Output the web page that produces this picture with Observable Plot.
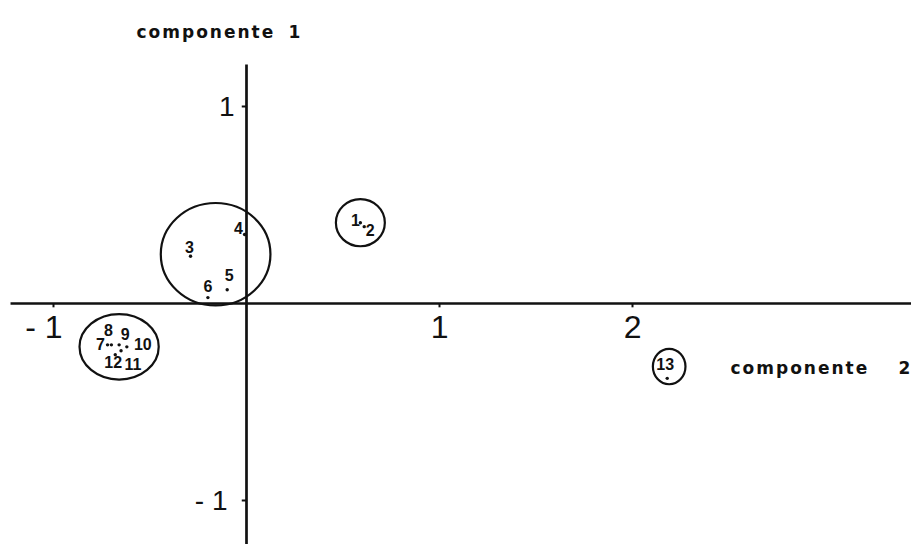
<!DOCTYPE html>
<html>
<head>
<meta charset="utf-8">
<script src="https://cdn.jsdelivr.net/npm/d3@7"></script>
<script src="https://cdn.jsdelivr.net/npm/@observablehq/plot@0.6"></script>
<style>
  html, body { margin: 0; padding: 0; background: #fff; overflow: hidden; }
  svg { display: block; }
</style>
</head>
<body>
<div id="chart"></div>
<script>
// Observations (labels) and their scores on the two components
const ids   = ["1", "2", "3", "4", "5", "6", "7", "8", "9", "10", "11", "12", "13"];
const comp2 = [0.59, 0.61, -0.29, -0.01, -0.10, -0.20, -0.72, -0.70, -0.66, -0.62, -0.65, -0.68, 2.18];
const comp1 = [0.41, 0.39, 0.24, 0.35, 0.07, 0.03, -0.21, -0.21, -0.21, -0.22, -0.24, -0.26, -0.38];

// Groups of observations, each outlined by a ring around its centre
const groupNames = ["1-2", "3-6", "7-12", "13"];
const groupComp2 = [0.59, -0.16, -0.66, 2.19];
const groupComp1 = [0.41, 0.25, -0.22, -0.32];

// Axis ticks and their labels
const xTicks = [-1, 1, 2];
const xTickLabels = ["- 1", "1", "2"];
const yTicks = [1, -1];
const yTickLabels = ["1", "- 1"];

// Styling: ring sizes (px) and their width/height ratio, label nudges (px)
const ringRadius = [24, 53, 36, 17];
const ringAspect = [1.04, 1.07, 1.21, 0.92];
const labelNudge = [[-5, -2], [6, 4], [-1, -8], [-6, -6], [2, -14], [0, -11],
                    [-7, 0], [-3, -14], [6, -10], [16, -2], [12, 14], [-2, 8], [-2, -13]];
const yLabelNudge = [-12, -19];

const W = 911, H = 544;

// Ellipse drawn as a custom symbol (four cubic Bézier quarters)
function ellipseSymbol(aspect) {
  return {
    draw(ctx, size) {
      const r = Math.sqrt(size / Math.PI);
      const rx = r * Math.sqrt(aspect), ry = r / Math.sqrt(aspect);
      const k = 0.5523;
      ctx.moveTo(rx, 0);
      ctx.bezierCurveTo(rx, ry * k, rx * k, ry, 0, ry);
      ctx.bezierCurveTo(-rx * k, ry, -rx, ry * k, -rx, 0);
      ctx.bezierCurveTo(-rx, -ry * k, -rx * k, -ry, 0, -ry);
      ctx.bezierCurveTo(rx * k, -ry, rx, -ry * k, rx, 0);
      ctx.closePath();
    }
  };
}

const idx = d3.range(ids.length);
const ink = "#111";
const handFont = "Liberation Sans, Arial, sans-serif";
const titleFont = "DejaVu Sans";

const chart = Plot.plot({
  width: W,
  height: H,
  margin: 0,
  x: { domain: [-1.2746, 3.4456], axis: null },
  y: { domain: [-1.2234, 1.538], axis: null },
  style: { background: "#fff", color: ink },
  marks: [
    // axes through the origin
    Plot.ruleY([0], { x1: -1.22, x2: 3.45, stroke: ink, strokeWidth: 2.7 }),
    Plot.ruleX([0], { y1: 1.21, y2: -1.23, stroke: ink, strokeWidth: 2.7 }),
    // small tick marks
    Plot.ruleX(xTicks, { x: d => d, y1: 0, y2: -0.022, stroke: ink, strokeWidth: 2 }),
    Plot.ruleY(yTicks, { y: d => d, x1: -0.022, x2: 0, stroke: ink, strokeWidth: 2 }),
    // tick labels
    Plot.text(xTicks, {
      x: d => d, y: 0, text: (d, i) => xTickLabels[i],
      textAnchor: "end", dx: 9, dy: 24,
      fontSize: 32, fontFamily: handFont, fill: ink
    }),
    ...yTicks.map((t, i) => Plot.text([t], {
      x: 0, y: d => d, text: () => yTickLabels[i],
      textAnchor: "end", dx: yLabelNudge[i], dy: 1,
      fontSize: 28, fontFamily: handFont, fill: ink
    })),
    // rings around the groups
    ...groupNames.map((g, i) => Plot.dot([i], {
      x: j => groupComp2[j], y: j => groupComp1[j],
      r: ringRadius[i], symbol: ellipseSymbol(ringAspect[i]),
      stroke: ink, strokeWidth: 2.2, fill: "none"
    })),
    // observations
    Plot.dot(idx, { x: i => comp2[i], y: i => comp1[i], r: 1.7, fill: ink }),
    ...idx.map(i => Plot.text([i], {
      x: j => comp2[j], y: j => comp1[j], text: j => ids[j],
      dx: labelNudge[i][0], dy: labelNudge[i][1],
      fontSize: 16, fontWeight: "bold", fontFamily: handFont, fill: ink
    })),
    // component titles
    Plot.text(["componente"], {
      frameAnchor: "top-left", textAnchor: "start", dx: 136, dy: 25,
      fontSize: 17, fontWeight: "bold", fontFamily: titleFont, fill: ink
    }),
    Plot.text(["1"], {
      frameAnchor: "top-left", textAnchor: "start", dx: 288, dy: 25,
      fontSize: 17, fontWeight: "bold", fontFamily: titleFont, fill: ink
    }),
    Plot.text(["componente"], {
      frameAnchor: "top-left", textAnchor: "start", dx: 730, dy: 361,
      fontSize: 17, fontWeight: "bold", fontFamily: titleFont, fill: ink
    }),
    Plot.text(["2"], {
      frameAnchor: "top-left", textAnchor: "start", dx: 898, dy: 361,
      fontSize: 17, fontWeight: "bold", fontFamily: titleFont, fill: ink
    })
  ]
});

// spread the lettering of the component titles
d3.select(chart).selectAll("text")
  .filter(function () { return this.textContent === "componente"; })
  .attr("letter-spacing", "2px")
  .style("letter-spacing", "2px");

document.getElementById("chart").appendChild(chart);
</script>
</body>
</html>
